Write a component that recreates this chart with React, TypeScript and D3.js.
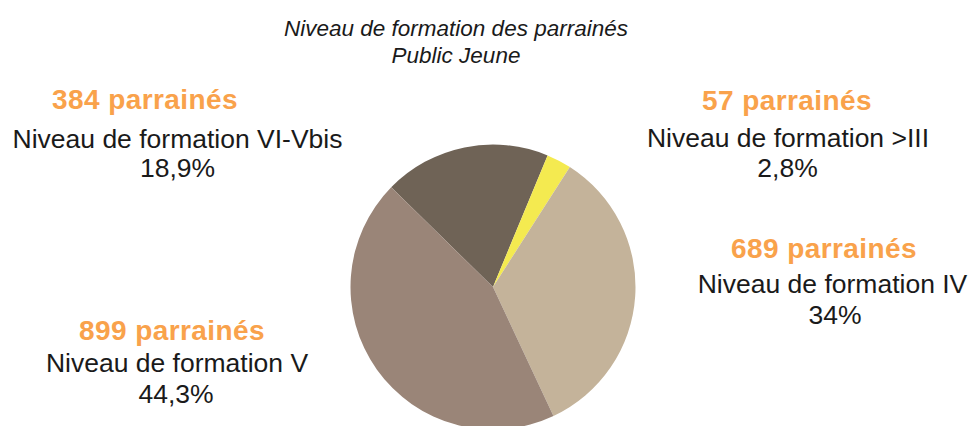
import React from "react";
import * as d3 from "d3";

const categories = ["Niveau de formation VI-Vbis", "Niveau de formation >III", "Niveau de formation IV", "Niveau de formation V"];
const counts = [384, 57, 689, 899];
const percentLabels = ["18,9%", "2,8%", "34%", "44,3%"];
const colors = ["#6f6356", "#f4ea50", "#c4b39a", "#9a8578"];
const titleLines = ["Niveau de formation des parrainés", "Public Jeune"];

// layout of the text blocks: [orange center x, orange baseline, text center x, text baseline, pct center x, pct baseline]
const labelLayout = [
  [145, 109, 177.5, 148, 177.5, 177],
  [787, 110, 788, 147, 787.5, 177],
  [824, 258, 832.5, 293, 835, 324],
  [172, 340, 177, 372, 176, 403],
];

const W = 973;
const H = 426;
const cx = 493;
const cy = 287;
const R = 142.5;
const FONT = "'Liberation Sans', Arial, sans-serif";

export default function App() {
  const pie = d3
    .pie<number>()
    .sort(null)
    .value((d) => d)
    .startAngle((-45.6 * Math.PI) / 180)
    .endAngle(((360 - 45.6) * Math.PI) / 180);
  const arcs = pie(counts);
  const arc = d3.arc<d3.PieArcDatum<number>>().innerRadius(0).outerRadius(R);

  return (
    <svg
      width={W}
      height={H}
      style={{ position: "absolute", left: 0, top: 0, background: "#fff" }}
    >
      <rect width={W} height={H} fill="#fff" />
      <g fontFamily={FONT} fontStyle="italic" fontSize={22.5} fill="#1a1a1a" textAnchor="middle">
        <text x={456} y={36}>{titleLines[0]}</text>
        <text x={456} y={63}>{titleLines[1]}</text>
      </g>
      <g transform={`translate(${cx},${cy})`}>
        {arcs.map((a, i) => (
          <path key={i} d={arc(a) || ""} fill={colors[i]} />
        ))}
      </g>
      {categories.map((c, i) => {
        const L = labelLayout[i];
        return (
          <g key={c} fontFamily={FONT} textAnchor="middle">
            <text x={L[0]} y={L[1]} fill="#f9a24b" fontWeight="bold" fontSize={28} letterSpacing={0.4}>
              {counts[i]} parrainés
            </text>
            <text x={L[2]} y={L[3]} fill="#1a1a1a" fontSize={26.5}>
              {c}
            </text>
            <text x={L[4]} y={L[5]} fill="#1a1a1a" fontSize={26.5}>
              {percentLabels[i]}
            </text>
          </g>
        );
      })}
    </svg>
  );
}
